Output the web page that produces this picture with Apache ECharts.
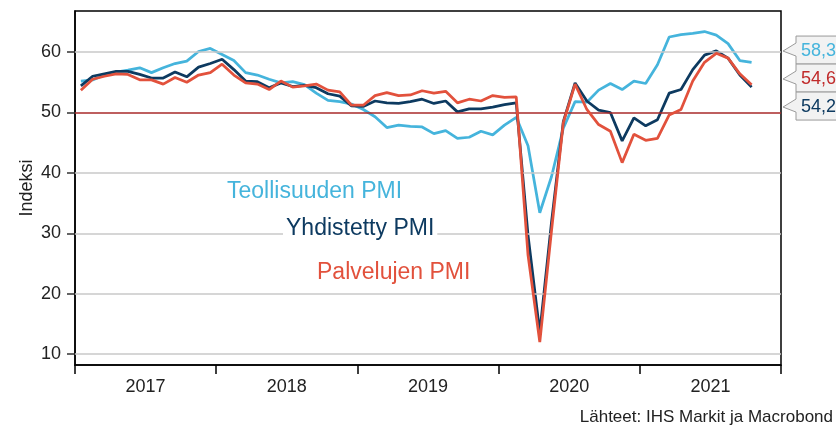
<!DOCTYPE html>
<html>
<head>
<meta charset="utf-8">
<script src="https://cdn.jsdelivr.net/npm/echarts@6/dist/echarts.min.js"></script>
<style>
html,body{margin:0;padding:0;background:#fff;}
#chart{width:836px;height:426px;}
</style>
</head>
<body>
<div id="chart"></div>
<script>
// Monthly data, Jan 2017 – Oct 2021
var startYear = 2017;
var years = ['2017', '2018', '2019', '2020', '2021'];
var yTicks = [10, 20, 30, 40, 50, 60];
var refLine = 50;

var teollisuus = [55.2,55.4,56.2,56.7,57.0,57.4,56.6,57.4,58.1,58.5,60.1,60.6,
  59.6,58.6,56.6,56.2,55.5,54.9,55.1,54.6,53.2,52.0,51.8,51.4,
  50.5,49.3,47.5,47.9,47.7,47.6,46.5,47.0,45.7,45.9,46.9,46.3,
  47.9,49.2,44.5,33.4,39.4,47.4,51.8,51.7,53.7,54.8,53.8,55.2,
  54.8,57.9,62.5,62.9,63.1,63.4,62.8,61.4,58.6,58.3];

var yhdistetty = [54.4,56.0,56.4,56.8,56.8,56.3,55.7,55.7,56.7,55.9,57.5,58.1,
  58.8,57.1,55.2,55.1,54.1,54.9,54.3,54.5,54.1,53.1,52.7,51.1,
  51.0,51.9,51.6,51.5,51.8,52.2,51.5,51.9,50.1,50.6,50.6,50.9,
  51.3,51.6,29.7,13.6,31.9,48.5,54.9,51.9,50.4,50.0,45.3,49.1,
  47.8,48.8,53.2,53.8,57.1,59.5,60.2,59.0,56.2,54.2];

var palvelut = [53.7,55.5,56.0,56.4,56.3,55.4,55.4,54.7,55.8,55.0,56.2,56.6,
  58.0,56.2,54.9,54.7,53.8,55.2,54.2,54.4,54.7,53.7,53.4,51.2,
  51.2,52.8,53.3,52.8,52.9,53.6,53.2,53.5,51.6,52.2,51.9,52.8,
  52.5,52.6,26.4,12.0,30.5,48.3,54.7,50.5,48.0,46.9,41.7,46.4,
  45.4,45.7,49.6,50.5,55.2,58.3,59.8,59.0,56.4,54.6];

var names = ['Teollisuuden PMI', 'Yhdistetty PMI', 'Palvelujen PMI'];
var colors = ['#45b4dc', '#0d3a60', '#e2513c'];
var labelColors = ['#45b4dc', '#c02a2a', '#0d3a60'];
var FONT = '"Liberation Sans", Arial, sans-serif';

function toPoints(arr) {
  return arr.map(function (v, i) { return [i + 0.5, v]; });
}

var chart = echarts.init(document.getElementById('chart'), null, {renderer: 'canvas'});

var series = [
  {
    type: 'line', name: 'grid', data: [], z: 1, silent: true,
    markLine: {
      silent: true, symbol: ['none', 'none'], animation: false,
      label: {show: false},
      data: yTicks.map(function (v) {
        return {yAxis: v, lineStyle: {color: v === refLine ? '#a82a2a' : '#c8c8c8', width: 1.5, type: 'solid'}};
      })
    }
  }
];
[teollisuus, yhdistetty, palvelut].forEach(function (arr, k) {
  series.push({
    type: 'line', name: names[k], data: toPoints(arr), showSymbol: false,
    z: 3 + k, lineStyle: {color: colors[k], width: 2.75}, itemStyle: {color: colors[k]},
    animation: false
  });
});

chart.setOption({
  animation: false,
  grid: {left: 75, right: 55, top: 11, bottom: 61, show: true, borderColor: '#000', borderWidth: 1.5, backgroundColor: 'transparent'},
  xAxis: {
    type: 'value', min: 0, max: years.length * 12, interval: 12,
    axisLine: {show: true, lineStyle: {color: '#000', width: 1.5}},
    axisTick: {show: true, length: 9, lineStyle: {color: '#000', width: 1.5}},
    axisLabel: {
      customValues: years.map(function (y, i) { return i * 12 + 6; }),
      formatter: function (v) { return years[Math.floor(v / 12)] || ''; },
      fontSize: 18, color: '#222', fontFamily: FONT, margin: 13
    },
    splitLine: {show: false}
  },
  yAxis: {
    type: 'value', min: 8.2, max: 66.8,
    name: 'Indeksi', nameLocation: 'middle', nameRotate: 90, nameGap: 39, nameMoveOverlap: false,
    nameTextStyle: {fontSize: 18, color: '#222', fontFamily: FONT},
    axisLine: {show: true, lineStyle: {color: '#000', width: 1.5}},
    axisTick: {show: true, length: 8, customValues: yTicks, lineStyle: {color: '#333', width: 1.5}},
    axisLabel: {customValues: yTicks, fontSize: 18, color: '#222', fontFamily: FONT, margin: 14},
    splitLine: {show: false}
  },
  series: series
});

// annotations and end-value callouts
var lastVals = [teollisuus, palvelut, yhdistetty].map(function (a) { return a[a.length - 1]; });
var lastColors = [labelColors[0], labelColors[1], labelColors[2]];
var lastX = teollisuus.length - 0.5;
var pys = lastVals.map(function (v) { return chart.convertToPixel({gridIndex: 0}, [lastX, v])[1]; });
var mean = pys.reduce(function (a, b) { return a + b; }, 0) / pys.length;
var boxH = 28;
var gridRight = chart.convertToPixel({gridIndex: 0}, [years.length * 12, 0])[0];
var graphics = [
  {type: 'text', z: 100, style: {text: names[0], x: 227, y: 192, fill: colors[0], font: '23px ' + FONT, verticalAlign: 'middle'}},
  {type: 'text', z: 100, style: {text: names[1], x: 283, y: 229, fill: colors[1], font: '23px ' + FONT, verticalAlign: 'middle', backgroundColor: '#fff', padding: [2, 3, 2, 3]}},
  {type: 'text', z: 100, style: {text: names[2], x: 317, y: 273, fill: colors[2], font: '23px ' + FONT, verticalAlign: 'middle'}},
  {type: 'text', z: 100, style: {text: 'Lähteet: IHS Markit ja Macrobond', x: 833, y: 417, fill: '#222', font: '17px ' + FONT, align: 'right', verticalAlign: 'middle'}}
];
lastVals.forEach(function (v, k) {
  var c = mean + (k - 1) * boxH;
  var bx = gridRight + 15, tip = gridRight + 2;
  graphics.push({
    type: 'polygon', z: 90,
    shape: {points: [[bx, c - boxH / 2], [bx + 60, c - boxH / 2], [bx + 60, c + boxH / 2], [bx, c + boxH / 2], [bx, c + 6], [tip, c + 1], [bx, c - 7]]},
    style: {fill: '#f2f2f2', stroke: '#9a9a9a', lineWidth: 1}
  });
  graphics.push({
    type: 'text', z: 95,
    style: {text: v.toFixed(1).replace('.', ','), x: bx + 5, y: c + 1, fill: lastColors[k], font: '18px ' + FONT, verticalAlign: 'middle'}
  });
});
chart.setOption({graphic: graphics});
</script>
</body>
</html>
